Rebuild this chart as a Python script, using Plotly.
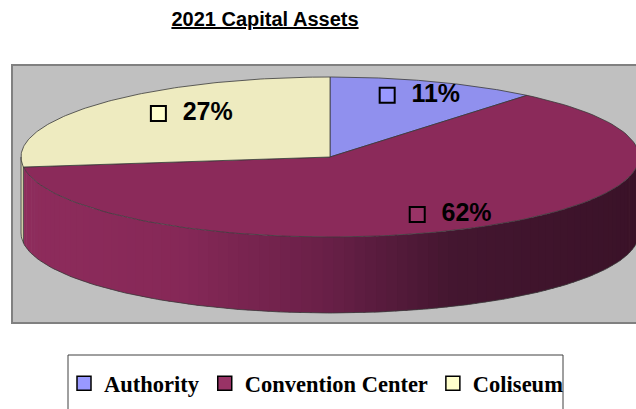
import numpy as np
import plotly.graph_objects as go

# ---------------- data ----------------
categories = ["Authority", "Convention Center", "Coliseum"]
values = [11, 62, 27]
pct_labels = ["11%", "62%", "27%"]

# ---------------- style ----------------
top_colors = ["#9090EE", "#8B2A5A", "#EEEBC0"]
legend_colors = ["#9999FF", "#993366", "#FFFFCC"]
wall_stops_x = [21, 180, 320, 450, 639]
wall_stops_c = ["#8E2C5C", "#862857", "#6A2048", "#441630", "#3A1228"]
coliseum_wall = "#DAD7AC"
edge = "#3A3A3A"

W, H = 636, 409
CX, CY, RX, RY, DEPTH = 330, 157, 309, 80, 76
LBL_FX, LBL_FY, LBL_DX = 0.68, 0.82, -14


def ell(theta_deg, dy=0.0):
    t = np.radians(theta_deg)
    return CX + RX * np.sin(t), CY - RY * np.cos(t) + dy


def hex2rgb(h):
    h = h.lstrip("#")
    return np.array([int(h[i:i + 2], 16) for i in (0, 2, 4)], float)


def wall_color(x):
    rgb = [np.interp(x, wall_stops_x, [hex2rgb(c)[k] for c in wall_stops_c]) for k in range(3)]
    return "rgb(%d,%d,%d)" % tuple(int(round(v)) for v in rgb)


fracs = np.array(values, float) / sum(values)
ends = np.cumsum(fracs) * 360.0
starts = ends - fracs * 360.0

fig = go.Figure()

# ---- side walls (visible front half: 90..270 deg) ----
for i in range(len(values)):
    a, b = max(starts[i], 90.0), min(ends[i], 270.0)
    if b <= a:
        continue
    n = max(1, int(np.ceil((b - a) / 2.0)))
    edges_t = np.linspace(a, b, n + 1)
    for j in range(n):
        ts = np.linspace(edges_t[j], edges_t[j + 1] + (0.4 if j < n - 1 else 0), 4)
        xt, yt = ell(ts)
        xb, yb = ell(ts[::-1], DEPTH)
        xs = np.concatenate([xt, xb, xt[:1]])
        ys = np.concatenate([yt, yb, yt[:1]])
        col = wall_color(xs.mean()) if categories[i] == "Convention Center" else coliseum_wall
        fig.add_trace(go.Scatter(x=xs, y=ys, fill="toself", fillcolor=col, mode="lines",
                                 line=dict(width=0, color=col), hoverinfo="skip", showlegend=False))

# ---- top faces ----
for i in range(len(values)):
    ts = np.linspace(starts[i], ends[i], 120)
    xa, ya = ell(ts)
    xs = np.concatenate([[CX], xa, [CX]])
    ys = np.concatenate([[CY], ya, [CY]])
    fig.add_trace(go.Scatter(x=xs, y=ys, fill="toself", fillcolor=top_colors[i], mode="lines",
                             line=dict(width=0.8, color=edge), name=categories[i],
                             hoverinfo="name", showlegend=False))

# ---- outlines ----
ts = np.linspace(90, 270, 200)
xb, yb = ell(ts, DEPTH)
fig.add_trace(go.Scatter(x=xb, y=yb, mode="lines", line=dict(width=0.8, color=edge),
                         hoverinfo="skip", showlegend=False))
for t in [90.0, 270.0] + [e for e in ends if 90 < e < 270]:
    x0, y0 = ell(t)
    x1, y1 = ell(t, DEPTH)
    fig.add_trace(go.Scatter(x=[x0, x1], y=[y0, y1], mode="lines", line=dict(width=0.8, color=edge),
                             hoverinfo="skip", showlegend=False))

# ---- data labels ----
mids = (starts + ends) / 2.0
tm = np.radians(mids)
lx = CX + RX * LBL_FX * np.sin(tm) + LBL_DX
ly = CY - RY * LBL_FY * np.cos(tm)
fig.add_trace(go.Scatter(x=lx, y=ly, mode="markers+text",
                         text=["\u00a0\u00a0" + s for s in pct_labels], textposition="middle right",
                         marker=dict(symbol="square", size=15, color=legend_colors,
                                     line=dict(color="black", width=2)),
                         textfont=dict(family="Liberation Sans", size=25, color="black", weight="bold"),
                         hoverinfo="skip", showlegend=False))

# ---- legend entries ----
for i, c in enumerate(categories):
    fig.add_trace(go.Scatter(x=[None], y=[None], mode="markers", name=c,
                             marker=dict(symbol="square", size=14, color=legend_colors[i],
                                         line=dict(color="black", width=1.5)),
                             showlegend=True))

fig.update_layout(
    width=W, height=H,
    margin=dict(l=0, r=0, t=0, b=0),
    paper_bgcolor="white", plot_bgcolor="white",
    xaxis=dict(range=[0, W], visible=False, fixedrange=True),
    yaxis=dict(range=[H, 0], visible=False, fixedrange=True),
    title=dict(text="2021 Capital Assets", x=265 / W, xanchor="center", y=1 - 19 / H, yanchor="middle",
               font=dict(family="Liberation Sans", size=20, color="black",
                         weight="bold", lineposition="under")),
    showlegend=True,
    legend=dict(orientation="h", x=64 / W, xanchor="left", y=1 - 362 / H, yanchor="top",
                font=dict(family="Liberation Serif", size=22.5, color="black", weight="bold"),
                bgcolor="rgba(0,0,0,0)", borderwidth=0, itemclick=False, itemdoubleclick=False,
                traceorder="normal"),
    shapes=[
        dict(type="rect", xref="x", yref="y", x0=12, x1=W + 5, y0=65, y1=323,
             fillcolor="#C0C0C0", line=dict(color="#808080", width=2), layer="below"),
        dict(type="rect", xref="x", yref="y", x0=68, x1=563, y0=355, y1=H + 10,
             fillcolor="white", line=dict(color="#404040", width=1), layer="below"),
    ],
)

fig.write_html("out.html", config={"displayModeBar": False},
               post_script="document.body.style.margin='0';document.body.style.overflow='hidden';")
